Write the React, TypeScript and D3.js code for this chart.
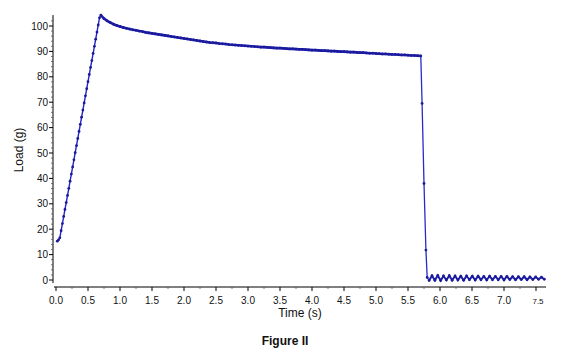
import React from "react";
import * as d3 from "d3";

// Sampled load readings (g)
const riseStart = 0.02;
const riseStep = 0.02;
const riseLoad = [
  15.3, 15.8, 16.6, 19.4, 22.2, 25.0, 27.8, 30.5, 33.3, 36.1, 38.9, 41.7, 44.5, 47.3, 50.1, 52.9, 55.7,
  58.5, 61.3, 64.1, 66.9, 69.7, 72.5, 75.3, 78.1, 80.9, 83.7, 86.4, 89.2, 92.0, 94.8, 97.6, 100.4, 103.2,
];

const decayStart = 0.7;
const decayStep = 0.05;
const decayLoad = [
  104.3, 102.9, 102.0, 101.3, 100.7, 100.2, 99.8, 99.4, 99.1, 98.8, 98.5, 98.3, 98.0, 97.8, 97.5, 97.3,
  97.1, 96.9, 96.7, 96.5, 96.3, 96.1, 95.9, 95.7, 95.5, 95.3, 95.1, 94.9, 94.7, 94.5, 94.3, 94.1, 93.9,
  93.7, 93.5, 93.4, 93.3, 93.1, 93.0, 92.9, 92.7, 92.6, 92.5, 92.4, 92.3, 92.2, 92.1, 92.0, 91.9, 91.8,
  91.7, 91.7, 91.6, 91.5, 91.4, 91.3, 91.3, 91.2, 91.1, 91.0, 91.0, 90.9, 90.8, 90.8, 90.7, 90.6, 90.5,
  90.5, 90.4, 90.3, 90.3, 90.2, 90.1, 90.1, 90.0, 89.9, 89.9, 89.8, 89.7, 89.7, 89.6, 89.5, 89.5, 89.4,
  89.3, 89.3, 89.2, 89.1, 89.0, 89.0, 88.9, 88.8, 88.8, 88.7, 88.6, 88.6, 88.5, 88.4, 88.4, 88.3, 88.2,
];

const dropTimes = [5.72, 5.75, 5.78, 5.8];
const dropLoad = [69.5, 38.0, 11.8, 1.0];

const ringStart = 5.83;
const ringStep = 0.045;
const ringLoad = [
  -0.2, 1.7, -0.1, 1.8, -0.2, 1.6, 0.0, 1.7, -0.1, 1.6, 0.0, 1.5, -0.1, 1.6, 0.1, 1.5, 0.0, 1.5, 0.1,
  1.4, 0.0, 1.5, 0.1, 1.4, 0.1, 1.4, 0.0, 1.4, 0.2, 1.3, 0.1, 1.3, 0.2, 1.3, 0.1, 1.2, 0.2, 1.2, 0.3,
  1.1, 0.3,
];

const xMajorTicks = [0, 0.5, 1, 1.5, 2, 2.5, 3, 3.5, 4, 4.5, 5, 5.5, 6, 6.5, 7, 7.5];
const yMajorTicks = [0, 10, 20, 30, 40, 50, 60, 70, 80, 90, 100];

type Pt = { t: number; v: number };

export default function App() {
  const rise: Pt[] = riseLoad.map((v, i) => ({ t: riseStart + i * riseStep, v }));
  const decay: Pt[] = decayLoad.map((v, i) => ({ t: decayStart + i * decayStep, v }));
  const drop: Pt[] = dropLoad.map((v, i) => ({ t: dropTimes[i], v }));
  const ring: Pt[] = ringLoad.map((v, i) => ({ t: ringStart + i * ringStep, v }));
  const data: Pt[] = [...rise, ...decay, ...drop, ...ring];

  const x = d3.scaleLinear().domain([0, 7.5]).range([56, 536]);
  const y = d3.scaleLinear().domain([0, 100]).range([280, 26]);

  const line = d3
    .line<Pt>()
    .x((d) => x(d.t))
    .y((d) => y(d.v));

  const xAxisY = 287;
  const yAxisX = 53;
  const font = "'Liberation Sans', Arial, sans-serif";

  const xMinor = d3.range(0.25, 7.6, 0.5);
  const yMinor = d3.range(0, 104, 2).filter((v) => v % 10 !== 0);

  const lastRise = rise[rise.length - 1];
  const lastDecay = decay[decay.length - 1];

  return (
    <svg
      width={564}
      height={356}
      style={{ position: "absolute", left: 0, top: 0, background: "#fff" }}
      fontFamily={font}
    >
      <rect width={564} height={356} fill="#fff" />
      {/* y axis */}
      <line x1={yAxisX} x2={yAxisX} y1={y(104.3)} y2={y(-1.2)} stroke="#000" strokeWidth={1} />
      {yMajorTicks.map((v) => (
        <g key={"ym" + v}>
          <line x1={yAxisX - 4} x2={yAxisX} y1={y(v)} y2={y(v)} stroke="#000" />
          <text x={yAxisX - 5} y={y(v)} dy="0.35em" textAnchor="end" fontSize={10} fill="#111">
            {v}
          </text>
        </g>
      ))}
      {yMinor.map((v) => (
        <line key={"yn" + v} x1={yAxisX - 2} x2={yAxisX} y1={y(v)} y2={y(v)} stroke="#555" strokeWidth={0.8} />
      ))}
      {/* x axis */}
      <line x1={54} x2={546} y1={xAxisY} y2={xAxisY} stroke="#000" strokeWidth={1} />
      {xMajorTicks.map((v) => (
        <g key={"xm" + v}>
          <line x1={x(v)} x2={x(v)} y1={xAxisY} y2={xAxisY + 4} stroke="#000" />
          <text
            x={x(v) + (v === 7.5 ? 2 : 0)}
            y={xAxisY + 17}
            textAnchor="middle"
            fontSize={v === 7.5 ? 8 : 10}
            fill="#111"
          >
            {v.toFixed(1)}
          </text>
        </g>
      ))}
      {xMinor.map((v) => (
        <line key={"xn" + v} x1={x(v)} x2={x(v)} y1={xAxisY} y2={xAxisY + 2} stroke="#555" strokeWidth={0.8} />
      ))}
      {/* data */}
      <path d={line(rise.concat([decay[0]])) || ""} fill="none" stroke="#2323c8" strokeWidth={1.4} />
      <path d={line(decay) || ""} fill="none" stroke="#1e1eb0" strokeWidth={2.6} />
      <path d={line([lastDecay, ...drop, ring[0]]) || ""} fill="none" stroke="#2a2ac8" strokeWidth={1.3} />
      <path d={line(ring) || ""} fill="none" stroke="#1e1ea8" strokeWidth={2} />
      {data.map((d, i) => (
        <circle key={i} cx={x(d.t)} cy={y(d.v)} r={1.4} fill="#1a1a9a" />
      ))}
      {/* labels */}
      <text x={300} y={317} textAnchor="middle" fontSize={12} fill="#111">
        Time (s)
      </text>
      <text
        transform={`translate(23,150) rotate(-90)`}
        textAnchor="middle"
        fontSize={12}
        fill="#111"
      >
        Load (g)
      </text>
      <text x={285} y={345} textAnchor="middle" fontSize={12} fontWeight="bold" fill="#111">
        Figure II
      </text>
    </svg>
  );
}
